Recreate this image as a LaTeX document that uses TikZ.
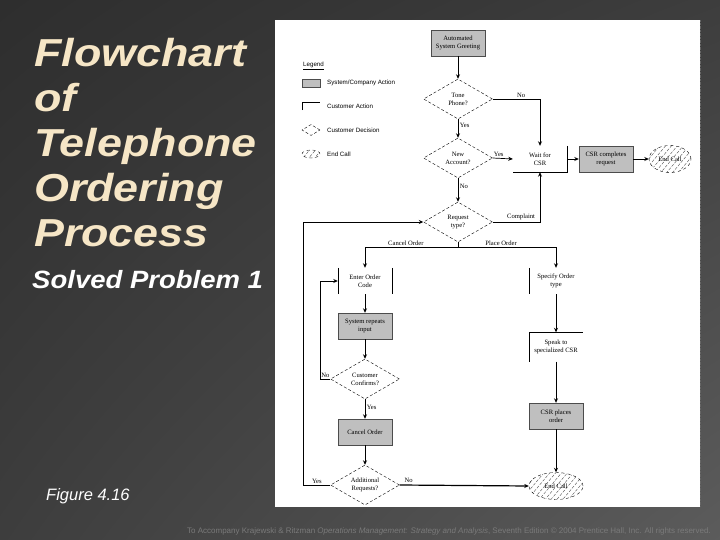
\documentclass[tikz,border=0pt]{standalone}
\usepackage{fontspec}
\setmainfont{Liberation Serif}
\setsansfont{Liberation Sans}
\usetikzlibrary{shapes.geometric,arrows.meta,patterns.meta,shadings}

\definecolor{titlecream}{HTML}{F6E6C6}
\definecolor{boxgray}{HTML}{BFBFBF}
\definecolor{footgray}{HTML}{7A7A7A}

\newcommand{\chartfont}{\fontsize{6.6}{8.2}\selectfont}
\newcommand{\legendfont}{\sffamily\fontsize{6.2}{7.5}\selectfont}

\tikzset{
  sysbox/.style={rectangle, fill=boxgray, draw=black!70, line width=0.4pt,
    minimum width=54, minimum height=26, align=center, font=\chartfont, inner sep=1pt},
  custbox/.style={rectangle, minimum width=54, minimum height=26, align=center,
    font=\chartfont, inner sep=1pt},
  custline/.style={line width=0.5pt},
  decide/.style={diamond, draw, densely dashed, line width=0.4pt, aspect=1.7,
    minimum width=69, minimum height=40, inner sep=0pt, align=center, font=\chartfont},
  endcall/.style={ellipse, draw, dashed, line width=0.4pt,
    pattern={Lines[angle=50, distance=4.5pt, line width=0.35pt]}, pattern color=black!75,
    minimum height=27, inner sep=0pt, font=\chartfont},
  flowarrow/.style={-{Stealth[length=4.5pt,width=4pt]}, line width=0.7pt},
  edgelabel/.style={font=\chartfont, inner sep=1.5pt},
  legendtext/.style={font=\legendfont, anchor=west, inner sep=0pt}
}

\begin{document}
\begin{tikzpicture}[x=1pt, y=-1pt]

% Background and white panel
\useasboundingbox (0,0) rectangle (720,540);
\shade[upper left={black!82}, upper right={black!76}, lower left={black!76}, lower right={black!64}]
  (0,0) rectangle (720,540);
\fill[white] (275,20) rectangle (700,507);
\draw[densely dotted, black!60] (700,20) -- (700,507);

% Slide texts
\begin{scope}[shift={(34,38)}, xscale=1.15, transform shape]
\node[anchor=north west, inner sep=0pt, align=left, text=titlecream,
  font=\sffamily\bfseries\itshape\fontsize{39}{45}\selectfont] (title)
  at (0,0) {Flowchart\\of\\Telephone\\Ordering\\Process};
\end{scope}
\begin{scope}[shift={(32,288)}, xscale=1.1, transform shape]
\node[anchor=base west, inner sep=0pt, text=white,
  font=\sffamily\bfseries\itshape\fontsize{25}{30}\selectfont] (solved)
  at (0,0) {Solved Problem 1};
\end{scope}
\node[anchor=base west, inner sep=0pt, text=white,
  font=\sffamily\itshape\fontsize{16.5}{19}\selectfont] (figno)
  at (46,500) {Figure 4.16};
\node[anchor=base east, inner sep=0pt, text=footgray,
  font=\sffamily\fontsize{8}{9}\selectfont] (footer)
  at (711,533) {To Accompany Krajewski \& Ritzman \textit{Operations Management: Strategy and Analysis}, Seventh Edition \textcopyright{} 2004 Prentice Hall, Inc. All rights reserved.};

% Legend
\node[anchor=west, inner sep=0pt, font=\legendfont] (legtitle) at (303,66) {\underline{Legend}};
\node[sysbox, minimum width=18, minimum height=8] (legsys) at (311,83) {};
\node[legendtext] (legsystext) at (327,83) {System/Company Action};
\node[custbox, minimum width=18, minimum height=8] (legcust) at (311,106) {};
\draw[custline] (legcust.south west) -- (legcust.north west) -- (legcust.north east);
\node[legendtext] (legcusttext) at (327,106) {Customer Action};
\node[decide, minimum width=18, minimum height=11] (legdec) at (311,130) {};
\node[legendtext] (legdectext) at (327,130) {Customer Decision};
\node[endcall, minimum width=18, minimum height=8] (legend) at (311,154) {};
\node[legendtext] (legendtext) at (327,154) {End Call};

% Upper part of the chart
\node[sysbox] (greet) at (458,43) {Automated\\System Greeting};
\node[decide] (tone) at (458,99) {Tone\\Phone?};
\node[decide] (acct) at (458,158) {New\\Account?};
\node[custbox] (wait) at (540,159) {Wait for\\CSR};
\node[sysbox] (csrdone) at (606,159) {CSR completes\\request};
\node[endcall, minimum width=42] (endtop) at (670,159) {End Call};
\node[decide] (reqtype) at (458,222) {Request\\type?};
\coordinate (split) at (458,247);

% Cancel order branch
\node[custbox] (enter) at (365,281) {Enter Order\\Code};
\node[sysbox] (repeat) at (365,326) {System repeats\\input};
\node[decide] (confirm) at (365,379) {Customer\\Confirms?};
\node[sysbox] (cancel) at (365,432) {Cancel Order};
\node[decide] (more) at (365,485) {Additional\\Requests?};

% Place order branch
\node[custbox] (spec) at (556,281) {Specify Order\\type};
\node[custbox, minimum height=29] (speak) at (556,347) {Speak to\\specialized CSR};
\node[sysbox] (places) at (556,416) {CSR places\\order};
\node[endcall, minimum width=54] (endbot) at (556,486) {End Call};

% Open sides of the customer actions
\draw[custline] (wait.north east) -- (wait.south east) -- (wait.south west);
\draw[custline] (enter.north west) -- (enter.south west) (enter.north east) -- (enter.south east);
\draw[custline] (spec.north west) -- (spec.south west);
\draw[custline] (speak.south west) -- (speak.north west) -- (speak.north east);

% Connectors
\draw[flowarrow] (greet) -- (tone);
\draw[flowarrow] (tone.east) -| node[edgelabel, above, pos=0.3] {No} (wait.north);
\draw[flowarrow] (tone.south) -- node[edgelabel, right, pos=0.35] {Yes} (acct.north);
\draw[flowarrow] (acct.east) -- node[edgelabel, above, pos=0.3] {Yes} (wait.west);
\draw[flowarrow] (acct.south) -- node[edgelabel, right, pos=0.35] {No} (reqtype.north);
\draw[flowarrow] (wait.east) -- (csrdone.west);
\draw[flowarrow] (csrdone.east) -- (endtop.west);
\draw[flowarrow] (reqtype.east) -| node[edgelabel, above, pos=0.3] {Complaint} (wait.south);
\draw[line width=0.7pt] (reqtype.south) -- (split);
\draw[flowarrow] (split) -| node[edgelabel, above, pos=0.28] {Cancel Order} (enter.north);
\draw[flowarrow] (split) -| node[edgelabel, above, pos=0.22] {Place Order} (spec.north);
\draw[flowarrow] (enter) -- (repeat);
\draw[flowarrow] (repeat) -- (confirm);
\draw[flowarrow] (confirm.west) -- node[edgelabel, above] {No} ++(-10,0) |- (enter.west);
\draw[flowarrow] (confirm.south) -- node[edgelabel, right, pos=0.4] {Yes} (cancel.north);
\draw[flowarrow] (cancel) -- (more);
\draw[flowarrow] (more.west) -- node[edgelabel, above] {Yes} ++(-27,0) |- (reqtype.west);
\draw[flowarrow, line width=1.2pt] (more.east) -- node[edgelabel, above, pos=0.07] {No} (endbot.west);
\draw[flowarrow] (spec) -- (speak);
\draw[flowarrow] (speak) -- (places);
\draw[flowarrow] (places) -- (endbot);

\end{tikzpicture}
\end{document}
